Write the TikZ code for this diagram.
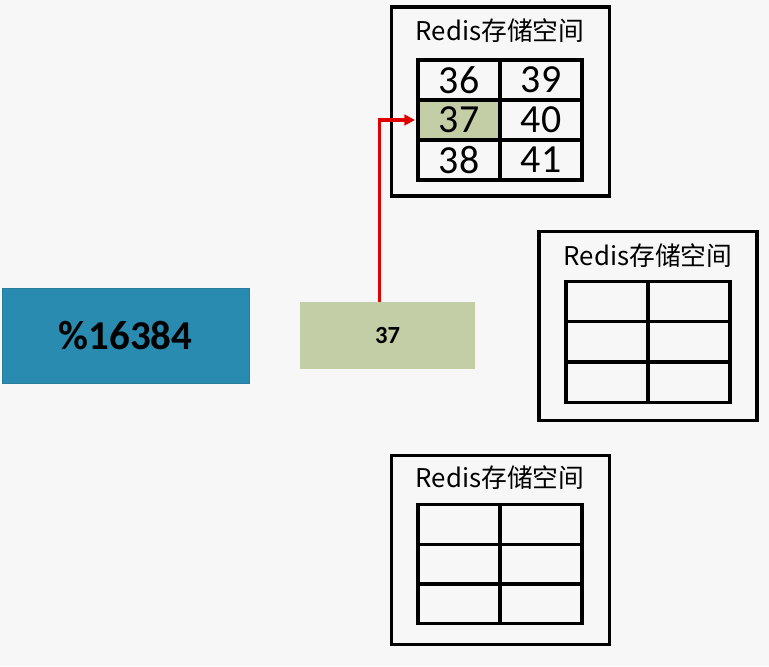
\documentclass[tikz,border=0pt]{standalone}
\usepackage{fontspec}
\setmainfont{Carlito}
\newfontfamily\cjk{Noto Sans CJK SC}
\usetikzlibrary{arrows.meta}
\definecolor{bgpage}{HTML}{F7F7F7}
\definecolor{modblue}{HTML}{2A8BB0}
\definecolor{slotgreen}{HTML}{C4CEA6}
\definecolor{arrowred}{HTML}{E00000}

\tikzset{
  frame/.style={draw, line width=3pt, minimum width=6.54cm, minimum height=5.67cm, inner sep=0pt},
  title/.style={font=\cjk\fontsize{22}{25}\selectfont},
  cell/.style={draw, line width=2.6pt, minimum width=2.46cm, minimum height=1.2cm, inner sep=0pt, font=\fontsize{34}{36}\selectfont},
}

\begin{document}
\begin{tikzpicture}[x=0.03cm, y=-0.03cm]
    \fill[bgpage] (0,0) rectangle (769,666);
    \useasboundingbox (0,0) rectangle (769,666);

    % modulo and slot
    \node[fill=modblue, draw=modblue!90!black, minimum width=7.41cm, minimum height=2.85cm, font=\bfseries\fontsize{35}{38}\selectfont] (mod) at (125.5,335.5) {\%16384};
    \node[fill=slotgreen, minimum width=5.25cm, minimum height=2.01cm, font=\bfseries\fontsize{21}{24}\selectfont] (slot) at (387.5,335.5) {37};

    % storage spaces
    \node[frame] (box1) at (500.5,101.5) {};
    \node[title] (title1) at (500,31) {Redis存储空间};
    \node[frame] (box2) at (648,326) {};
    \node[title] (title2) at (648,256) {Redis存储空间};
    \node[frame] (box3) at (500.5,550) {};
    \node[title] (title3) at (500,478) {Redis存储空间};

    % tables
    \foreach \i in {0,1,2} {
        \foreach \j in {0,1} {
            \pgfmathtruncatemacro\val{36+\i+3*\j}
            \ifnum\val=37 \def\cellfill{slotgreen}\else\def\cellfill{none}\fi
            \node[cell, fill=\cellfill] (t1-\i-\j) at (459+82*\j, 80+40*\i) {\val};
            \node[cell] (t2-\i-\j) at (607+82*\j, 301.5+40.3*\i) {};
            \node[cell] (t3-\i-\j) at (459+82*\j, 524.5+39.7*\i) {};
        }
    }

    % slot to storage
    \draw[arrowred, line width=2.6pt, -{Triangle[length=9pt,width=9pt]}, shorten >=1.3pt] ([xshift=-0.25cm]slot.north) |- (t1-1-0.west);
\end{tikzpicture}
\end{document}
